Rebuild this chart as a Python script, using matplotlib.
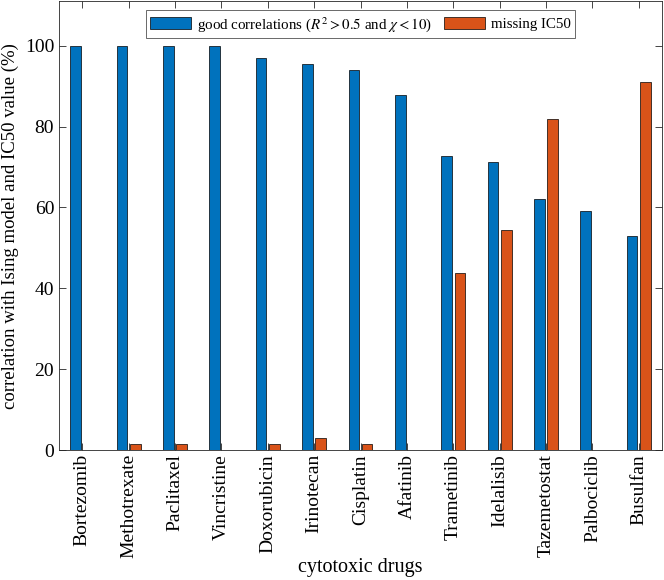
import numpy as np
import matplotlib
matplotlib.use("Agg")
import matplotlib.pyplot as plt

plt.rcParams["font.family"] = ["Liberation Serif", "DejaVu Serif"]
plt.rcParams["mathtext.fontset"] = "stix"

drugs = ["Bortezomib", "Methotrexate", "Paclitaxel", "Vincristine", "Doxorubicin",
         "Irinotecan", "Cisplatin", "Afatinib", "Trametinib", "Idelalisib",
         "Tazemetostat", "Palbociclib", "Busulfan"]
good_corr = [100, 100, 100, 100, 97.0, 95.5, 93.9, 87.9, 72.7, 71.2, 62.1, 59.1, 53.0]
missing_ic50 = [0, 1.5, 1.5, 0, 1.5, 3.0, 1.5, 0, 43.9, 54.5, 81.8, 0, 90.9]

blue = "#0072BD"
orange = "#D95319"

fig = plt.figure(figsize=(6.64, 5.8), dpi=100)
ax = fig.add_axes([0.089, 0.224, 0.908, 0.774])

x = np.arange(1, len(drugs) + 1)
w = 0.229
ax.bar(x - 0.143, good_corr, w, color=blue, edgecolor="black", linewidth=0.5,
       label=r"good correlations ($R^2 > 0.5$ and $\chi < 10$)")
ax.bar(x + 0.143, missing_ic50, w, color=orange, edgecolor="black", linewidth=0.5,
       label="missing IC50")

ax.set_xlim(0.5, len(drugs) + 0.5)
ax.set_ylim(0, 111)
ax.set_yticks([0, 20, 40, 60, 80, 100])
ax.set_xticks(x)
ax.set_xticklabels(drugs, rotation=90)
ax.tick_params(direction="in", top=True, right=True, labelsize=14, length=5,
               color="#262626", width=0.6)
ax.tick_params(axis="x", pad=3)
for s in ax.spines.values():
    s.set_color("#262626")
    s.set_linewidth(0.6)

ax.set_xlabel("cytotoxic drugs", fontsize=14.5)
ax.xaxis.set_label_coords(0.5, -0.24)
ax.set_ylabel("correlation with Ising model and IC50 value (%)", fontsize=13.5)
ax.yaxis.set_label_coords(-0.066, 0.5)

leg = ax.legend(loc="upper center", ncol=2, fontsize=10.8, frameon=True, fancybox=False,
                edgecolor="#262626", handlelength=2.7, handleheight=0.8,
                bbox_to_anchor=(0.5, 0.99), borderaxespad=0.3, columnspacing=0.8,
                handletextpad=0.4, borderpad=0.3)
leg.get_frame().set_linewidth(0.6)

fig.savefig("out.png", dpi=100)
